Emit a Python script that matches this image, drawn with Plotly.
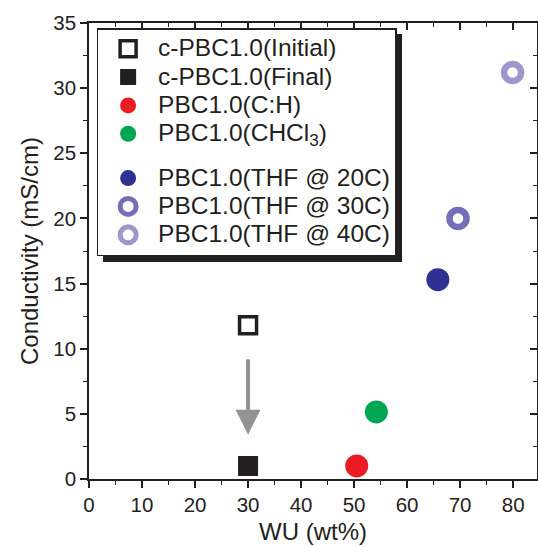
import plotly.graph_objects as go

# Water uptake (wt%) and conductivity (mS/cm) for each sample
labels = [
    "c-PBC1.0(Initial)",
    "c-PBC1.0(Final)",
    "PBC1.0(C:H)",
    "PBC1.0(CHCl<sub>3</sub>)",
    "PBC1.0(THF @ 20C)",
    "PBC1.0(THF @ 30C)",
    "PBC1.0(THF @ 40C)",
]
groups = ["solvent", "solvent", "solvent", "solvent", "thf", "thf", "thf"]
wu = [30.0, 30.0, 50.5, 54.2, 65.8, 69.6, 79.9]
conductivity = [11.8, 1.0, 1.0, 5.15, 15.3, 20.0, 31.2]

colors = ["#231F20", "#231F20", "#ED1C24", "#00A651", "#2E3192", "#7470B8", "#9D97CC"]
symbols = ["square-open", "square", "circle", "circle", "circle", "circle-open", "circle-open"]
sizes = [17, 20, 23, 23, 23, 17, 17]
line_widths = [3.5, 0, 0, 0, 0, 6.5, 6.5]

x_ticks = [0, 10, 20, 30, 40, 50, 60, 70, 80]
y_ticks = [0, 5, 10, 15, 20, 25, 30, 35]

# Arrow from initial to final state
arrow_x = 30.0
arrow_from = 9.3
arrow_to = 3.4

ink = "#231F20"
font_family = "Liberation Sans, Arial, sans-serif"

fig = go.Figure()
for lab, grp, x, y, c, s, sz, lw in zip(labels, groups, wu, conductivity, colors, symbols, sizes, line_widths):
    fig.add_trace(go.Scatter(
        x=[x], y=[y], mode="markers",
        name=f'<span style="font-size:24.5px">{lab}</span>',
        legendgroup=grp,
        marker=dict(symbol=s, size=sz, color=c, line=dict(color=c, width=lw)),
    ))

axis_common = dict(
    showgrid=False, zeroline=False, showline=True, linecolor=ink, linewidth=1.5,
    ticks="outside", tickcolor=ink, tickwidth=1.5, ticklen=7,
    tickfont=dict(size=20.5, color=ink, family=font_family),
    minor=dict(ticks="outside", ticklen=4, tickcolor=ink, tickwidth=1.2),
)

fig.update_layout(
    width=538, height=547,
    margin=dict(l=89, r=1, t=23, b=68),
    paper_bgcolor="white", plot_bgcolor="white",
    font=dict(family=font_family, color=ink),
    xaxis=dict(
        range=[0, 84.5], tickvals=x_ticks, minor_dtick=5,
        title=dict(text="WU (wt%)", font=dict(size=24, color=ink), standoff=8),
        **axis_common,
    ),
    yaxis=dict(
        range=[0, 35], tickvals=y_ticks, minor_dtick=2.5,
        title=dict(text="Conductivity (mS/cm)", font=dict(size=24, color=ink), standoff=8),
        **axis_common,
    ),
    # mirrored frame with inward ticks on top and right
    xaxis2=dict(
        overlaying="x", side="top", range=[0, 84.5], tickvals=x_ticks,
        showgrid=False, zeroline=False, showline=True, linecolor=ink, linewidth=1.5,
        ticks="inside", ticklen=7, tickwidth=1.5, tickcolor=ink, showticklabels=False,
        minor=dict(ticks="inside", ticklen=4, tickcolor=ink, tickwidth=1.2, dtick=5),
    ),
    yaxis2=dict(
        overlaying="y", side="right", range=[0, 35], tickvals=y_ticks,
        showgrid=False, zeroline=False, showline=True, linecolor=ink, linewidth=1.5,
        ticks="inside", ticklen=7, tickwidth=1.5, tickcolor=ink, showticklabels=False,
        minor=dict(ticks="inside", ticklen=4, tickcolor=ink, tickwidth=1.2, dtick=2.5),
    ),
    legend=dict(
        x=0.017, y=0.989, xanchor="left", yanchor="top",
        bgcolor="white", bordercolor=ink, borderwidth=1.5,
        font=dict(size=19.5, color=ink, family=font_family),
        itemsizing="trace", itemwidth=50, tracegroupgap=16,
    ),
    showlegend=True,
)

# invisible trace to activate the mirrored axes
fig.add_trace(go.Scatter(x=[None], y=[None], xaxis="x2", yaxis="y2", showlegend=False, hoverinfo="skip"))

# drop shadow behind the legend box
fig.add_shape(
    type="rect", xref="paper", yref="paper",
    x0=(103 - 89) / 448, x1=(402 - 89) / 448,
    y0=(479 - 262) / 456, y1=(479 - 34) / 456,
    fillcolor=ink, line=dict(width=0), layer="above",
)

fig.add_annotation(
    x=arrow_x, y=arrow_to, ax=arrow_x, ay=arrow_from,
    xref="x", yref="y", axref="x", ayref="y",
    showarrow=True, arrowhead=2, arrowsize=1.25, arrowwidth=4, arrowcolor="#939393",
    text="",
)

fig.write_html("out.html")
